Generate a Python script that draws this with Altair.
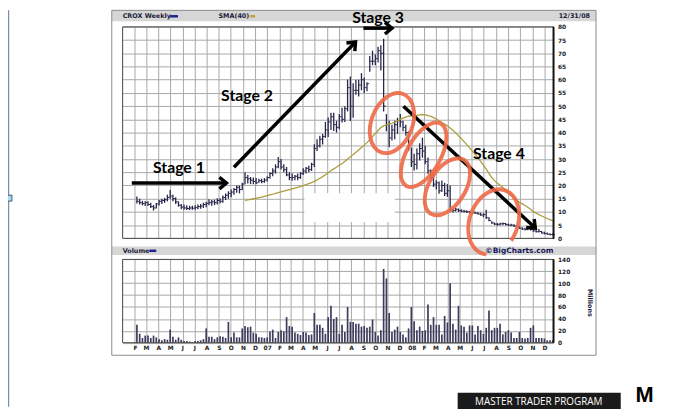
import altair as alt
import pandas as pd

# ---------------- data ----------------
weeks = pd.date_range("2006-02-06", periods=151, freq="7D").strftime("%Y-%m-%d").tolist()

low = [13.2, 12.8, 12.5, 12.2, 12.2, 11.5, 10.5, 11.3, 12.4, 13.0,
       13.4, 14.0, 15.0, 14.0, 13.0, 12.0, 11.0, 10.8, 10.7, 10.7,
       10.8, 10.8, 11.0, 11.2, 11.5, 11.8, 12.5, 12.3, 12.6, 12.8,
       13.2, 13.5, 14.5, 15.0, 15.5, 16.5, 17.2, 17.0, 18.2, 20.5,
       20.7, 20.5, 20.5, 20.5, 21.0, 20.8, 21.0, 21.5, 22.5, 23.5,
       24.5, 26.5, 26.0, 25.0, 23.5, 22.0, 21.8, 22.0, 22.0, 22.5,
       24.0, 24.5, 25.0, 25.5, 27.0, 33.0, 34.4, 35.5, 38.0, 38.3,
       41.0, 40.6, 40.0, 41.3, 43.8, 44.0, 48.0, 44.4, 45.6, 54.3,
       53.7, 56.0, 55.0, 55.6, 63.0, 65.5, 65.5, 66.5, 63.5, 48.0,
       40.5, 34.5, 37.0, 37.5, 39.5, 42.0, 40.5, 38.8, 33.0, 27.0,
       25.7, 26.0, 29.4, 30.5, 28.0, 24.4, 22.0, 19.4, 18.5, 16.9,
       17.5, 16.0, 15.7, 10.0, 9.8, 10.2, 10.0, 9.9, 9.8, 9.6,
       9.5, 9.3, 9.2, 9.0, 8.5, 8.0, 7.3, 6.5, 5.5, 5.0,
       4.8, 4.9, 5.0, 4.9, 4.7, 4.6, 4.3, 4.0, 3.6, 3.2,
       3.0, 3.1, 3.0, 2.5, 2.2, 2.2, 1.8, 1.5, 1.4, 1.2,
       1.2]
high = [15.8, 15.0, 14.2, 14.0, 14.0, 13.5, 12.6, 13.4, 14.5, 15.0,
        15.3, 16.5, 18.3, 16.5, 15.5, 14.0, 13.0, 12.8, 12.5, 12.3,
        12.3, 12.5, 12.8, 13.0, 13.5, 13.8, 14.8, 14.5, 14.6, 15.2,
        15.2, 16.2, 17.0, 17.8, 18.5, 19.0, 20.0, 20.0, 21.0, 25.0,
        24.0, 23.2, 23.0, 22.8, 22.5, 22.5, 22.8, 23.5, 25.0, 26.5,
        28.0, 30.8, 30.0, 28.0, 27.0, 25.0, 24.5, 24.0, 24.5, 25.0,
        26.5, 27.0, 27.5, 28.6, 35.6, 37.5, 38.8, 39.5, 44.0, 45.7,
        47.5, 47.5, 44.5, 47.0, 49.4, 50.0, 60.0, 61.2, 58.7, 60.0,
        60.0, 62.5, 60.8, 59.0, 69.0, 71.0, 69.5, 72.5, 73.0, 75.5,
        47.0, 44.5, 43.0, 44.5, 45.6, 47.0, 44.5, 43.0, 40.5, 34.4,
        32.0, 34.0, 36.0, 38.1, 35.0, 30.6, 26.0, 24.4, 22.0, 21.5,
        21.9, 21.0, 20.5, 20.0, 11.2, 11.5, 11.3, 11.0, 10.8, 10.6,
        10.4, 10.3, 10.2, 10.0, 9.7, 9.5, 10.8, 8.0, 6.5, 6.0,
        5.8, 5.9, 6.0, 5.8, 5.6, 5.5, 5.3, 5.0, 4.6, 4.2,
        4.0, 4.3, 4.6, 3.5, 3.2, 3.5, 2.8, 2.5, 2.2, 1.9,
        1.8]
close = [14.0, 13.5, 13.2, 13.6, 12.8, 12.0, 11.5, 13.0, 14.0, 14.3,
         14.6, 15.5, 16.0, 15.0, 13.8, 12.5, 11.8, 11.5, 11.3, 11.5,
         11.4, 11.6, 12.0, 12.2, 12.8, 13.2, 13.5, 13.8, 13.5, 14.3,
         14.0, 15.5, 16.3, 17.0, 17.5, 18.5, 19.3, 18.5, 20.5, 23.0,
         22.5, 22.0, 21.5, 21.0, 21.8, 21.5, 22.0, 23.0, 24.5, 25.5,
         27.0, 29.0, 27.0, 26.0, 24.0, 23.0, 23.0, 23.5, 23.0, 24.5,
         25.5, 26.5, 26.0, 28.0, 34.0, 35.0, 37.5, 38.5, 41.0, 44.0,
         46.0, 43.0, 42.0, 46.0, 45.0, 49.0, 57.0, 50.0, 56.0, 56.0,
         58.0, 60.0, 57.0, 58.5, 67.0, 67.0, 68.0, 71.0, 70.0, 50.0,
         43.0, 38.0, 41.0, 43.0, 44.5, 44.0, 42.0, 40.0, 35.0, 29.0,
         28.0, 32.0, 34.0, 33.0, 29.0, 25.5, 23.0, 20.5, 21.0, 18.0,
         20.0, 17.0, 18.0, 10.8, 10.5, 11.0, 10.5, 10.3, 10.2, 10.0,
         9.8, 9.6, 9.5, 9.2, 8.8, 9.0, 7.8, 6.8, 5.8, 5.4,
         5.3, 5.5, 5.6, 5.2, 5.0, 5.0, 4.7, 4.5, 3.9, 3.5,
         3.4, 3.8, 3.3, 2.8, 2.5, 2.6, 2.0, 1.8, 1.6, 1.4,
         1.5]
volume = [30, 15, 8, 12, 12, 8, 12, 9, 6, 4,
          6, 5, 22, 10, 5, 9, 5, 3, 3, 2,
          1, 3, 3, 4, 6, 24, 10, 10, 6, 9,
          11, 10, 8, 35, 9, 17, 9, 9, 24, 28,
          26, 27, 17, 15, 9, 9, 8, 9, 19, 22,
          8, 18, 21, 19, 43, 28, 27, 17, 15, 13,
          18, 17, 13, 14, 50, 30, 30, 25, 15, 43,
          62, 40, 43, 15, 30, 18, 60, 35, 35, 32,
          32, 27, 28, 25, 27, 39, 18, 12, 21, 124,
          108, 50, 18, 22, 27, 18, 14, 9, 24, 60,
          36, 21, 27, 20, 21, 64, 30, 43, 30, 30,
          14, 45, 34, 100, 32, 22, 62, 29, 27, 17,
          29, 29, 14, 28, 21, 15, 25, 54, 21, 25,
          25, 32, 14, 18, 21, 17, 8, 8, 18, 8,
          7, 8, 25, 29, 8, 8, 8, 7, 4, 4,
          4]

month_ticks = [(2006, m) for m in range(2, 13)] + [(2007, m) for m in range(1, 13)] + [(2008, m) for m in range(1, 13)]
price_ticks = list(range(0, 81, 5))
volume_ticks = list(range(0, 141, 20))

# annotations (in data coordinates)
stage_text = ["Stage 1", "Stage 2", "Stage 3", "Stage 4"]
stage_date = ["2006-05-23", "2006-11-11", "2007-10-08", "2008-08-08"]
stage_price = [26.4, 53.7, 83.4, 31.9]

arrow_from = ["2006-01-24", "2006-10-09", "2007-09-01", "2007-12-11"]
arrow_to = ["2006-09-20", "2007-08-12", "2007-11-12", "2008-11-08"]
arrow_p0 = [20.9, 26.9, 79.5, 50.0]
arrow_p1 = [20.9, 74.3, 79.5, 3.9]

ring_date = ["2007-11-12", "2008-01-31", "2008-03-31", "2008-07-26"]
ring_price = [43.6, 31.6, 19.5, 6.2]

blank_from, blank_to = "2007-04-05", "2007-11-19"
blank_p0, blank_p1 = 6.2, 17.1

# ---------------- styles ----------------
arrow_angle = [0, 314, 0, 43]
ring_height = [63, 72, 64, 68]
ring_ratio = [0.66, 0.48, 0.57, 0.72]
ring_tilt = [21, 29, 32, 20]


def ring_path(r, open_=False):
    if open_:
        return f"M {r*0.174:.3f} 0.985 A {r} 1 0 1 1 {r*0.940:.3f} 0.342"
    return f"M 0 -1 A {r} 1 0 1 1 0 1 A {r} 1 0 1 1 0 -1"


W, H = 436, 319.6
xs = alt.Scale(type="utc", nice=False,
               domain=[alt.DateTime(year=2006, month=1, date=1, utc=True),
                       alt.DateTime(year=2008, month=12, date=24, utc=True)])
xaxis = alt.Axis(
    values=[alt.DateTime(year=y, month=m, date=1, utc=True) for y, m in month_ticks],
    labelExpr="utcmonth(datum.value)==0 ? utcFormat(datum.value,'%y') : substring(utcFormat(datum.value,'%b'),0,1)",
    grid=True, labelPadding=2, title=None)
ps = alt.Scale(domain=[-39.477, 80], nice=False, zero=False)
vs = alt.Scale(domain=[0, 530.77], nice=False, zero=False)

df = pd.DataFrame({"date": weeks, "low": low, "high": high, "close": close, "vol": volume})
stages = pd.DataFrame({"t": stage_text, "d": stage_date, "p": stage_price})
arrows = pd.DataFrame({"d0": arrow_from, "d1": arrow_to, "p0": arrow_p0, "p1": arrow_p1, "ang": arrow_angle})
rings = pd.DataFrame({"d": ring_date, "p": ring_price,
                      "shape": [ring_path(r, i == 3) for i, r in enumerate(ring_ratio)],
                      "sz": [h * h for h in ring_height], "ang": ring_tilt})
blank = pd.DataFrame({"d0": [blank_from], "d1": [blank_to], "p0": [blank_p0], "p1": [blank_p1]})
one = pd.DataFrame({"k": [0]})


def X(f="date"):
    return alt.X(f"{f}:T", scale=xs, axis=xaxis)


def label(txt, x, y, **mk):
    return alt.Chart(one).mark_text(**mk).encode(x=alt.value(x), y=alt.value(y), text=alt.value(txt))


def box(x, x2, y, y2, **mk):
    return alt.Chart(one).mark_rect(**mk).encode(x=alt.value(x), x2=alt.value(x2), y=alt.value(y), y2=alt.value(y2))


def seg(x, x2, y, y2, **mk):
    return alt.Chart(one).mark_rule(**mk).encode(x=alt.value(x), x2=alt.value(x2), y=alt.value(y), y2=alt.value(y2))


small = dict(font="DejaVu Sans", fontWeight="bold", fontSize=6.5, color="#1d1d3a", baseline="middle")
grey = "#d6d6d6"

layers = []
# frame and header bands
layers.append(box(-11, 479, -16.7, -5.7, fill=grey))
layers.append(box(0, W, 214.6, 235.3, fill="white"))
layers.append(box(-11, 479, 222.3, 230.8, fill=grey))
layers.append(box(-11, 479, -16.7, 332.3, fill=None, stroke="#8a8a8a", strokeWidth=1))

# blank patch in the price panel
layers.append(alt.Chart(blank).mark_rect(color="white").encode(
    x=X("d0"), x2=alt.X2("d1:T"),
    y=alt.Y("p0:Q", scale=ps, axis=None), y2=alt.Y2("p1:Q")))

# price bars
layers.append(alt.Chart(df).mark_rule(color="#26264a", strokeWidth=1.3).encode(
    x=X(), y=alt.Y("low:Q", scale=ps, axis=alt.Axis(
        orient="right", values=price_ticks, grid=True, labelPadding=4, title=None)),
    y2=alt.Y2("high:Q")))
layers.append(alt.Chart(df).mark_rule(color="#26264a", strokeWidth=1, x2Offset=2.2).encode(
    x=X(), x2=alt.X2("date:T"), y=alt.Y("close:Q", scale=ps, axis=None)))
# SMA(40)
layers.append(alt.Chart(df).transform_window(
    sma="mean(close)", cnt="count()", frame=[-39, 0], sort=[alt.SortField("date")]
).transform_filter("datum.cnt >= 40").mark_line(color="#ab9d3a", strokeWidth=1.3).encode(
    x=X(), y=alt.Y("sma:Q", scale=ps, axis=None)))

# volume
layers.append(alt.Chart(df).mark_rule(color="#3c3c5c", strokeWidth=1.7).encode(
    x=X(),
    y=alt.Y("vol:Q", scale=vs, axis=alt.Axis(
        orient="right", values=volume_ticks, grid=True, labelPadding=4, title=None)),
    y2=alt.datum(0)))

# panel borders
layers.append(box(0, W, 0, 214, fill=None, stroke="#444", strokeWidth=1))
layers.append(box(0, W, 235.3, H, fill=None, stroke="#444", strokeWidth=1))
layers.append(seg(W, W, 0, 214.5, color="#111", strokeWidth=2))
layers.append(seg(W, W, 235.3, H, color="#111", strokeWidth=2))

# header texts
layers.append(label("CROX Weekly", 0, -10.7, align="left", **small))
layers.append(seg(48, 56, -10.7, -10.7, color="#22228a", strokeWidth=2.5))
layers.append(label("SMA(40)", 97, -10.7, align="left", **small))
layers.append(seg(129, 134, -10.7, -10.7, color="#c9a035", strokeWidth=2.5))
layers.append(label("12/31/08", 473, -10.7, align="right", **small))
layers.append(label("Volume", 0, 226.6, align="left", **small))
layers.append(seg(27, 34, 226.6, 226.6, color="#22228a", strokeWidth=2.5))
layers.append(label("©BigCharts.com", W, 226.8, align="right", font="DejaVu Sans", fontWeight="bold",
                    fontSize=7.5, color="#1a1a5a", baseline="middle"))
layers.append(label("Millions", 473, 279.3, align="center", angle=90, **small))

# annotations
layers.append(alt.Chart(arrows).mark_rule(color="black", strokeWidth=3.5).encode(
    x=X("d0"), x2=alt.X2("d1:T"), y=alt.Y("p0:Q", scale=ps, axis=None), y2=alt.Y2("p1:Q")))
layers.append(alt.Chart(arrows).mark_point(shape="M -1.2 -1 L 0 0 L -1.2 1", filled=False, color="black",
                                           strokeWidth=3.5, size=140, opacity=1).encode(
    x=X("d1"), y=alt.Y("p1:Q", scale=ps, axis=None), angle=alt.Angle("ang:Q", scale=None)))
layers.append(alt.Chart(rings).mark_point(filled=False, color="#ee6a48", strokeWidth=4, opacity=0.9).encode(
    x=X("d"), y=alt.Y("p:Q", scale=ps, axis=None),
    shape=alt.Shape("shape:N", scale=None), size=alt.Size("sz:Q", scale=None),
    angle=alt.Angle("ang:Q", scale=None)))
layers.append(alt.Chart(stages).mark_text(font="Lato", fontWeight="bold", fontSize=16, color="black",
                                          baseline="middle", align="center").encode(
    x=X("d"), y=alt.Y("p:Q", scale=ps, axis=None), text="t:N"))

# page decorations
layers.append(seg(-115.5, -115.5, -16.7, 384.3, color="#7a90a8", strokeWidth=1.5))
layers.append(box(-118, -112, 170.3, 176.3, fill="#a8dcf0", stroke="#3a5a80", strokeWidth=1))
layers.append(box(339, 504, 370.3, 390, fill="#1a1a1a"))
layers.append(label("MASTER TRADER PROGRAM", 421, 383.0, align="center", font="Open Sans",
                    fontSize=10, color="white", baseline="alphabetic"))
layers.append(label("M", 528, 379.5, align="center", font="Liberation Sans", fontWeight="bold",
                    fontSize=22, color="black", baseline="alphabetic"))

chart = alt.layer(*layers).resolve_scale(y="independent").properties(
    width=W, height=H,
    autosize=alt.AutoSizeParams(type="none"),
    padding={"left": 116, "top": 16.7, "right": 130, "bottom": 64.7},
    background="white",
).configure_view(stroke=None).configure_axis(
    labelFont="DejaVu Sans", labelFontWeight="bold", labelFontSize=6, labelColor="#222",
    gridColor="#a8a8a8", gridWidth=1, domain=False, ticks=False,
    labelOverlap=False, labelFlush=False, labelBound=False,
)

chart.save("out.html", embed_options={"renderer": "svg", "actions": False})
